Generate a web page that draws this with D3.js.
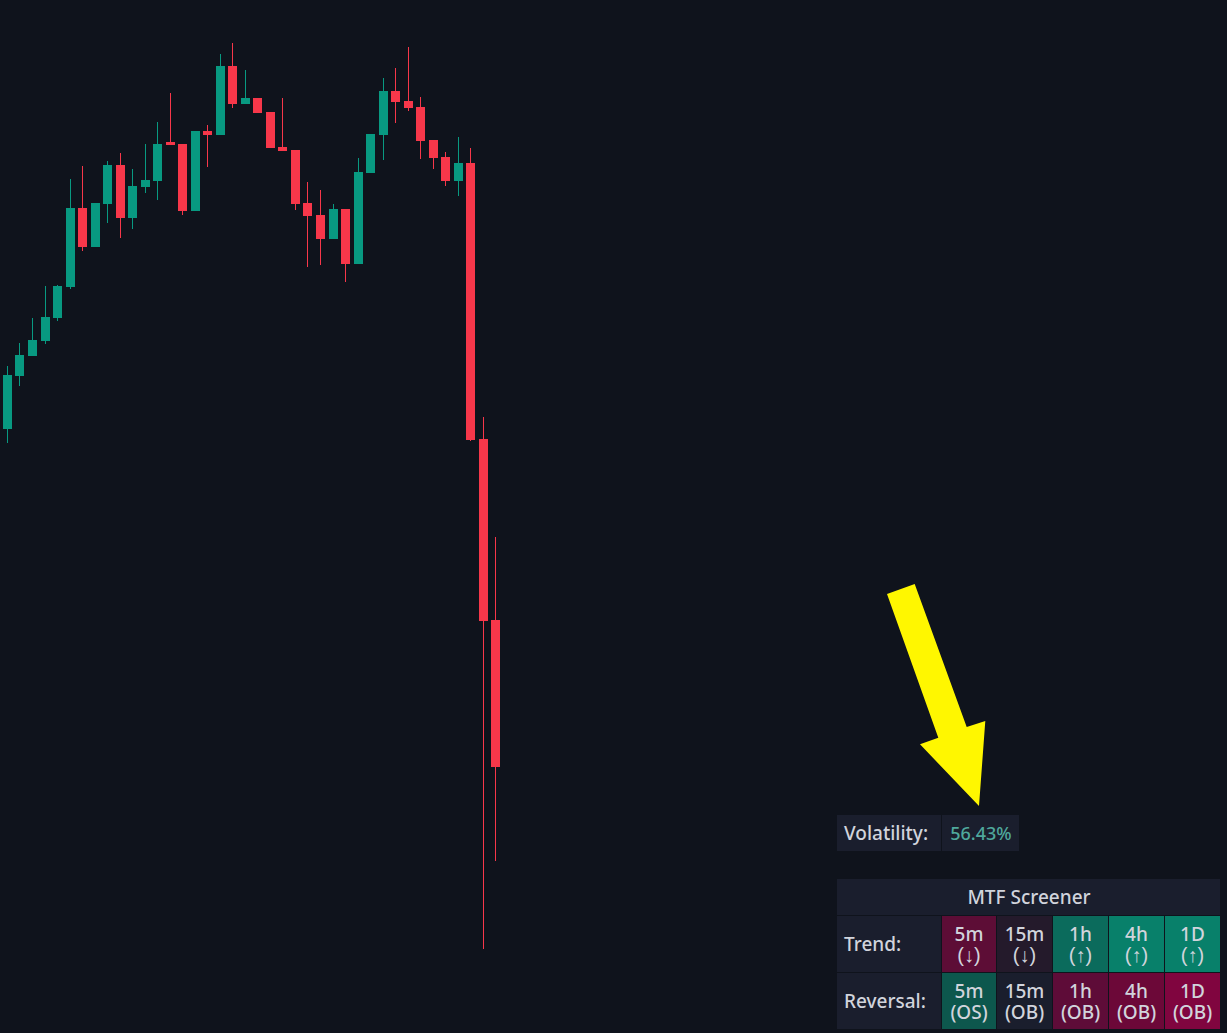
<!DOCTYPE html>
<html><head><meta charset="utf-8">
<script src="https://cdnjs.cloudflare.com/ajax/libs/d3/7.8.5/d3.min.js"></script>
<style>html,body{margin:0;padding:0;background:#0f131c;overflow:hidden}svg{display:block}</style>
</head><body><div id="chart"></div>
<script>
// Price values, on a screen-height price scale (0..1033)
const highs  = [667,690,715,747,748,854,867,737,872,880,864,889,911,940,889,815,908,979,990,963,888,921,935,883,851,843,829,824,875,899,955,965,986,936,893,881,896,885,616,496];
const lows   = [590,647,677,689,712,744,782,737,810,795,804,840,833,888,818,815,866,898,925,929,888,885,882,823,766,768,794,751,769,860,873,910,922,874,864,847,837,592,84,172];
const opens  = [604,657,677,692,715,746,825,786,829,868,815,846,852,891,889,822,902,898,967,929,935,921,886,883,830,818,794,824,769,860,898,942,932,926,893,876,852,870,594,413];
const closes = [658,678,693,716,747,825,786,830,868,815,847,853,889,888,822,902,898,967,929,935,920,885,882,829,817,794,824,769,861,899,942,931,925,892,875,852,870,593,412,266];
const xIndex = d3.range(opens.length);

const volatilityLabel = "Volatility:", volatilityValue = "56.43%";
const screenerTitle = "MTF Screener";
const rowLabels = ["Trend:", "Reversal:"];
const frames = ["5m","15m","1h","4h","1D"];
const trendStates = ["(↓)","(↓)","(↑)","(↑)","(↑)"];
const reversalStates = ["(OS)","(OB)","(OB)","(OB)","(OB)"];
const trendFills = ["#5d0d36","#241a2b","#0b6b5c","#08806a","#08806a"];
const reversalFills = ["#0d574d","#1a1e2d","#5e0c38","#6c0838","#80053f"];
const arrowPts = [[887,439],[914.7,449],[966.7,306],[985.3,312],[979,227],[920,288.7],[938.3,295.3]];

const W = 1227, H = 1033;
const BG="#0f131c", UP="#089981", DOWN="#f7374a", CELL="#1a1e2d", TEXT="#d1d4dc", VAL="#4fa89c", FONT="'Noto Sans',sans-serif";

const svg = d3.select("#chart").append("svg").attr("width",W).attr("height",H).attr("viewBox",`0 0 ${W} ${H}`);
svg.append("rect").attr("width",W).attr("height",H).attr("fill",BG);

const x = d3.scaleLinear().domain([0,39]).range([7.47,7.47+12.521*39]);
const y = d3.scaleLinear().domain([0,H]).range([H,0]);
const left = i => Math.round(x(i)-4.5);

const candles = svg.append("g").selectAll("g").data(xIndex).join("g")
  .attr("fill", i => closes[i]>=opens[i] ? UP : DOWN);
candles.append("rect").attr("class","wick")
  .attr("x", i=>left(i)+4).attr("width",1)
  .attr("y", i=>y(highs[i])).attr("height", i=>y(lows[i])-y(highs[i]));
candles.append("rect").attr("class","body")
  .attr("x", i=>left(i)).attr("width",9)
  .attr("y", i=>y(Math.max(opens[i],closes[i])))
  .attr("height", i=>Math.abs(opens[i]-closes[i]));

// arrow
svg.append("path").attr("d", d3.line().x(d=>d[0]).y(d=>y(d[1])).curve(d3.curveLinearClosed)(arrowPts)).attr("fill","#fff700");

// tables
const colEdges = [[837,941],[942,996],[997,1052],[1053,1108],[1109,1164],[1165,1220]];
const rowEdges = [[916,972],[973,1029]];
const tbl = svg.append("g").attr("font-family",FONT).attr("font-weight",500).attr("fill",TEXT);
function cell(x0,x1,y0,y1,fill){ tbl.append("rect").attr("x",x0).attr("y",y0).attr("width",x1-x0).attr("height",y1-y0).attr("fill",fill); }
function label(t,px,py,anchor,col,fs){
  const el = tbl.append("text").attr("x",px).attr("y",py).attr("text-anchor",anchor||"middle").attr("fill",col||TEXT).attr("font-size",fs||19).text(t);
  if(/[↓↑]/.test(t)) el.attr("font-family","'Liberation Sans'").attr("font-size",20).attr("font-weight",400);
}

cell(837,941,815,851,CELL); cell(942,1019,815,851,CELL);
label(volatilityLabel,844,840,"start");
label(volatilityValue,981,840,"middle",VAL,18);
cell(837,1220,879,915,CELL);
label(screenerTitle,1029,904,"middle");
rowEdges.forEach((r,ri)=>{
  cell(837,941,r[0],r[1],CELL);
  label(rowLabels[ri],844,r[0]+35,"start");
  const fills = ri===0?trendFills:reversalFills, st = ri===0?trendStates:reversalStates;
  frames.forEach((f,ci)=>{
    const c = colEdges[ci+1], mx=(c[0]+c[1])/2;
    cell(c[0],c[1],r[0],r[1],fills[ci]);
    label(f,mx,r[0]+25);
    label(st[ci],mx,r[0]+46);
  });
});
</script></body></html>
